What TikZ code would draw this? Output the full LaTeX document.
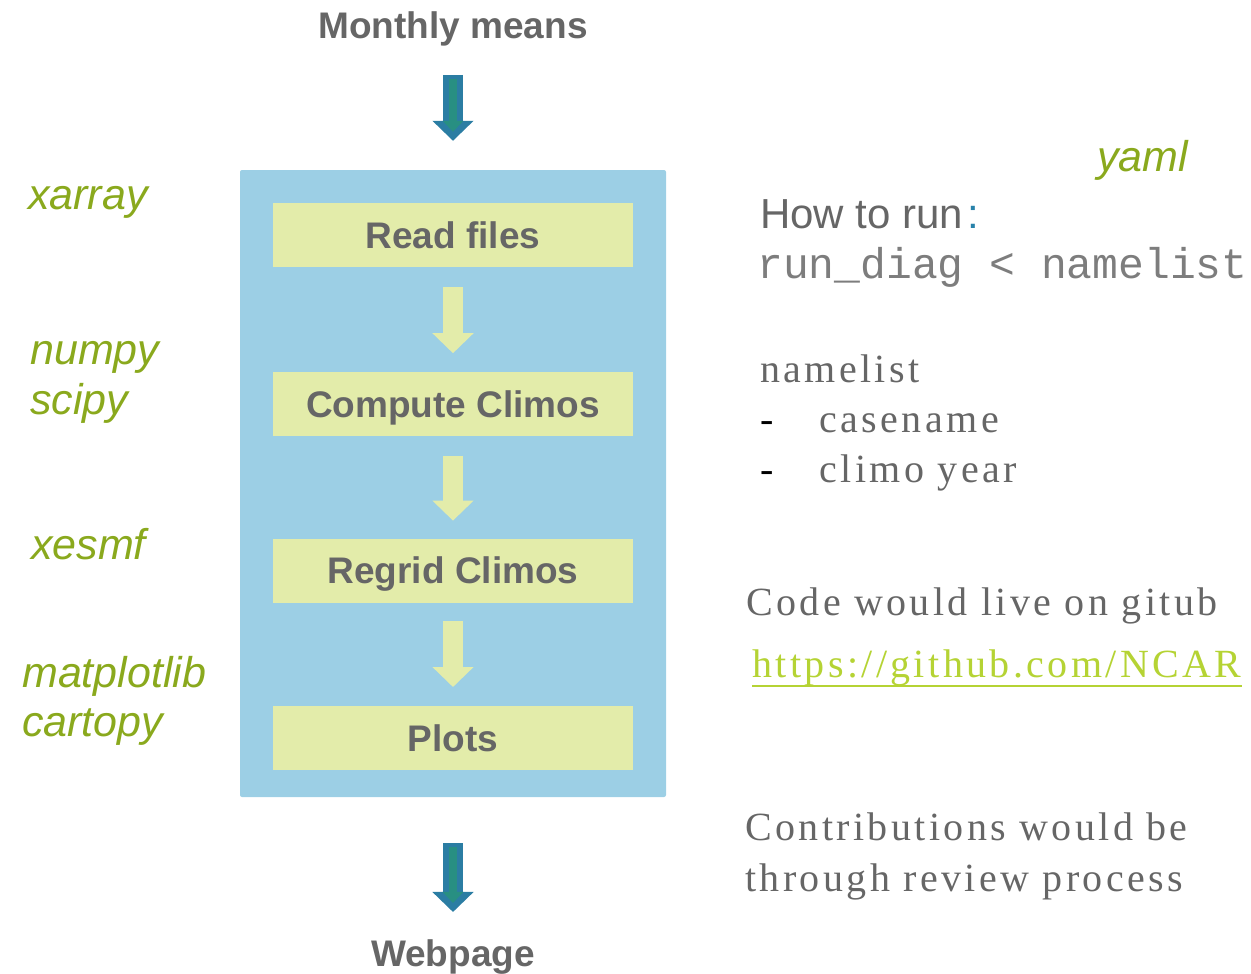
\documentclass[tikz,border=0pt]{standalone}
\usepackage{fontspec}
\setmainfont{Liberation Sans}
\setmonofont{Liberation Mono}
\newfontfamily\spacedserif[LetterSpace=8.5]{Liberation Serif}
\usetikzlibrary{arrows.meta, positioning}
\definecolor{framefill}{RGB}{156,207,229}
\definecolor{boxfill}{RGB}{227,236,170}
\definecolor{textgray}{RGB}{102,102,102}
\definecolor{codegray}{RGB}{125,125,125}
\definecolor{libgreen}{RGB}{138,169,29}
\definecolor{linklime}{RGB}{181,211,52}
\definecolor{arrowblue}{RGB}{43,125,163}
\definecolor{arrowteal}{RGB}{40,143,130}
\definecolor{colonblue}{RGB}{40,130,170}

\begin{document}
\begin{tikzpicture}[
  x=1pt, y=-1pt,
  node distance=103pt,
  every node/.style={inner sep=0pt},
  title/.style={font=\fontsize{37}{44}\selectfont\bfseries, text=textgray},
  stepbox/.style={fill=boxfill, minimum width=360pt, minimum height=64pt,
                  text height=26pt, text depth=0pt,
                  font=\fontsize{37}{44}\selectfont\bfseries, text=textgray},
  frame/.style={fill=framefill, rounded corners=2pt,
                minimum width=426pt, minimum height=627pt},
  lib/.style={anchor=base west, font=\fontsize{43}{50}\selectfont\itshape, text=libgreen},
  note/.style={anchor=base west, font=\fontsize{40}{50}\selectfont\spacedserif, text=textgray},
  howto/.style={anchor=base west, font=\fontsize{42}{50}\selectfont, text=textgray},
  flowarr/.style={line width=20pt, draw=boxfill, -{Triangle[length=20pt, width=40pt]}},
  outerarr/.style={line width=20pt, draw=arrowblue, -{Triangle[length=20pt, width=40pt]}},
  innerarr/.style={line width=8pt, draw=arrowteal, -{Triangle[length=11pt, width=20pt]}},
]
\useasboundingbox (0,0) rectangle (1251,974);

% flow column
\node[title, anchor=base] (means) at (453,39) {Monthly means};
\node[frame] (frame) at (453,483.5) {};
\node[stepbox] (read) at (453,235) {Read files};
\node[stepbox, below=105pt of read]  (climo)  {Compute Climos};
\node[stepbox, below=102pt of climo] (regrid) {Regrid Climos};
\node[stepbox, below=103pt of regrid] (plots) {Plots};
\node[title, anchor=base] (web) at (453,966) {Webpage};

\draw[outerarr, shorten <=28pt, shorten >=29pt] (means.south) -- (frame);
\draw[innerarr, shorten <=32pt, shorten >=38pt] (means.south) -- (frame);
\draw[flowarr, shorten <=20pt, shorten >=19pt] (read)   -- (climo);
\draw[flowarr, shorten <=19pt, shorten >=18pt] (climo)  -- (regrid);
\draw[flowarr, shorten <=18pt, shorten >=19pt] (regrid) -- (plots);
\draw[outerarr, shorten <=46pt, shorten >=27pt] (frame.south) -- (web.north);
\draw[innerarr, shorten <=50pt, shorten >=36pt] (frame.south) -- (web.north);

% libraries
\node[lib] (xarray) at (28,209) {xarray};
\node[lib] (numpy)  at (30,364) {numpy};
\node[lib] (scipy)  at (30,414) {scipy};
\node[lib] (xesmf)  at (31,559) {xesmf};
\node[lib] (mpl)    at (22,687) {matplotlib};
\node[lib] (carto)  at (22,736) {cartopy};

% notes on the right
\node[lib] (yaml) at (1097,171) {yaml};
\node[howto] (howto) at (760,228) {How to run\hspace{4pt}\textcolor{colonblue}{:}};
\node[howto, font=\fontsize{43}{50}\selectfont\ttfamily, text=codegray] (cmd) at (757,278) {run\_diag < namelist};
\node[note] (nml)   at (760,382) {namelist};
\node[note] (case)  at (760,432) {\textcolor{black}{-}\hspace{46pt}casename};
\node[note] (year)  at (760,482) {\textcolor{black}{-}\hspace{46pt}climo year};
\node[note] (code)  at (746,615) {Code would live on gitub};
\node[note, text=linklime] (link) at (752,677) {https://github.com/NCAR};
\draw[linklime, line width=1.5pt] ([yshift=-9pt]link.base west) -- ([yshift=-9pt]link.base east);
\node[note] (contrib) at (745,840) {Contributions would be};
\node[note] (review)  at (745,891) {through review process};

\end{tikzpicture}
\end{document}
